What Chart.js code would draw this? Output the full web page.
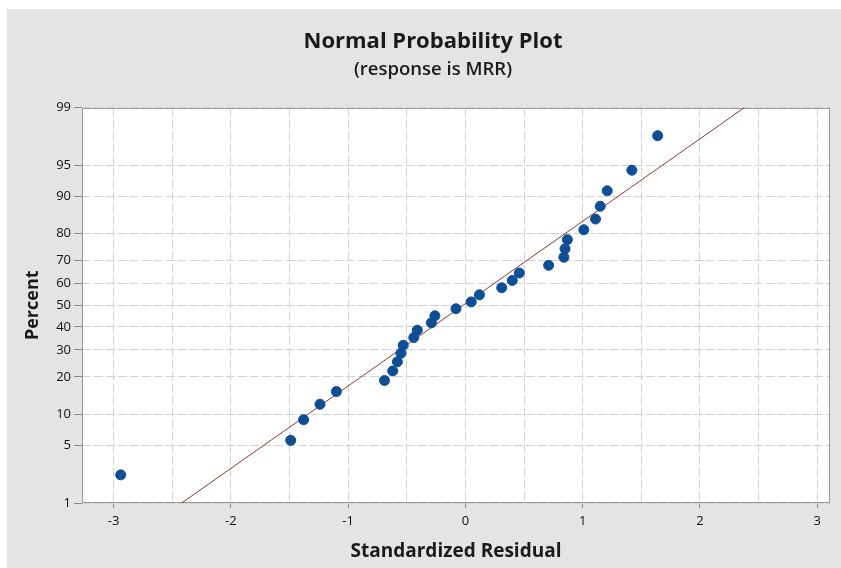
<!DOCTYPE html>
<html>
<head>
<meta charset="utf-8">
<script src="https://cdn.jsdelivr.net/npm/chart.js@4"></script>
<style>
  body { margin: 0; background: #fff; }
  #wrap { position: absolute; left: 7px; top: 9px; width: 834px; height: 559px; background: #e4e4e4; }
</style>
</head>
<body>
<div id="wrap"><canvas id="npp" width="834" height="559"></canvas></div>
<script>
// residuos estandarizados y su percentil
const residuals = [-2.94, -1.49, -1.38, -1.24, -1.10, -0.69, -0.62, -0.58, -0.55, -0.53,
  -0.44, -0.41, -0.29, -0.26, -0.08, 0.05, 0.12, 0.31, 0.40, 0.46,
  0.71, 0.84, 0.85, 0.87, 1.01, 1.11, 1.15, 1.21, 1.42, 1.64];
const percents = [2.3, 5.6, 8.9, 12.2, 15.5, 18.8, 22.0, 25.3, 28.6, 31.9,
  35.2, 38.5, 41.8, 45.1, 48.4, 51.6, 54.9, 58.2, 61.5, 64.8,
  68.1, 71.4, 74.7, 78.0, 81.3, 84.5, 87.8, 91.1, 94.4, 97.7];

// recta de ajuste
const fitResidual = [-2.42, 2.38];
const fitPercent = [1, 99];

const yTickPercents = [1, 5, 10, 20, 30, 40, 50, 60, 70, 80, 90, 95, 99];
const xTickValues = [-3, -2.5, -2, -1.5, -1, -0.5, 0, 0.5, 1, 1.5, 2, 2.5, 3];

// inversa de la normal (Acklam) para la escala de probabilidad
function probit(p) {
  const a = [-3.969683028665376e+01, 2.209460984245205e+02, -2.759285104469687e+02, 1.383577518672690e+02, -3.066479806614716e+01, 2.506628277459239e+00];
  const b = [-5.447609879822406e+01, 1.615858368580409e+02, -1.556989798598866e+02, 6.680131188771972e+01, -1.328068155288572e+01];
  const c = [-7.784894002430293e-03, -3.223964580411365e-01, -2.400758277161838e+00, -2.549732539343734e+00, 4.374664141464968e+00, 2.938163982698783e+00];
  const d = [7.784695709041462e-03, 3.224671290700398e-01, 2.445134137142996e+00, 3.754408661907416e+00];
  const pl = 0.02425;
  let q, r;
  if (p < pl) {
    q = Math.sqrt(-2 * Math.log(p));
    return (((((c[0]*q+c[1])*q+c[2])*q+c[3])*q+c[4])*q+c[5]) / ((((d[0]*q+d[1])*q+d[2])*q+d[3])*q+1);
  }
  if (p > 1 - pl) {
    q = Math.sqrt(-2 * Math.log(1 - p));
    return -(((((c[0]*q+c[1])*q+c[2])*q+c[3])*q+c[4])*q+c[5]) / ((((d[0]*q+d[1])*q+d[2])*q+d[3])*q+1);
  }
  q = p - 0.5; r = q * q;
  return (((((a[0]*r+a[1])*r+a[2])*r+a[3])*r+a[4])*r+a[5])*q / (((((b[0]*r+b[1])*r+b[2])*r+b[3])*r+b[4])*r+1);
}
const zOf = pct => probit(pct / 100);

const points = residuals.map((r, i) => ({ x: r, y: zOf(percents[i]) }));
const fitLine = fitResidual.map((r, i) => ({ x: r, y: zOf(fitPercent[i]) }));

// fondo blanco y marco del area de trazado
const plotFrame = {
  id: 'plotFrame',
  beforeDraw(chart) {
    const { ctx, chartArea: a } = chart;
    ctx.save();
    ctx.fillStyle = '#ffffff';
    ctx.fillRect(a.left, a.top, a.right - a.left, a.bottom - a.top);
    ctx.restore();
  },
  beforeDatasetsDraw(chart) {
    const { ctx, chartArea: a } = chart;
    ctx.save();
    ctx.strokeStyle = '#9a9a9a';
    ctx.lineWidth = 1;
    ctx.strokeRect(Math.round(a.left) + 0.5, Math.round(a.top) + 0.5,
      Math.round(a.right - a.left) - 1, Math.round(a.bottom - a.top) - 1);
    ctx.restore();
  }
};

Chart.defaults.font.family = '"Open Sans", "Noto Sans", sans-serif';
Chart.defaults.color = '#222';

new Chart(document.getElementById('npp').getContext('2d'), {
  type: 'scatter',
  data: {
    datasets: [{
      type: 'line',
      data: fitLine,
      borderColor: '#8c3a36',
      borderWidth: 1,
      pointRadius: 0,
      fill: false,
      order: 2
    }, {
      data: points,
      backgroundColor: '#0d4f97',
      borderColor: '#0d4f97',
      pointRadius: 5,
      order: 1
    }]
  },
  options: {
    responsive: false,
    animation: false,
    layout: { padding: { left: 29, right: 11, top: 0, bottom: 0 } },
    plugins: {
      legend: { display: false },
      tooltip: { enabled: false },
      title: {
        display: true,
        text: 'Normal Probability Plot',
        color: '#1a1a1a',
        font: { size: 22, weight: 'bold' },
        padding: { top: 20, bottom: 3 }
      },
      subtitle: {
        display: true,
        text: '(response is MRR)',
        color: '#1a1a1a',
        font: { size: 18.5, weight: '600' },
        padding: { top: 0, bottom: 27 }
      }
    },
    scales: {
      x: {
        type: 'linear',
        min: -3.27,
        max: 3.11,
        afterBuildTicks: s => { s.ticks = xTickValues.map(v => ({ value: v })); },
        afterFit: s => { s.height = 65; },
        ticks: {
          autoSkip: false,
          maxRotation: 0,
          padding: 5,
          color: '#111',
          font: { size: 13 },
          callback: v => Number.isInteger(v) ? v : ''
        },
        grid: {
          color: '#d2d2d2',
          tickLength: 5,
          tickBorderDash: [],
          tickColor: c => (c.tick && Number.isInteger(c.tick.value)) ? '#8a8a8a' : 'rgba(0,0,0,0)'
        },
        border: { display: false, dash: [9, 3] },
        title: {
          display: true,
          text: 'Standardized Residual',
          color: '#1a1a1a',
          font: { size: 19, weight: 'bold', lineHeight: 1.2 },
          padding: { top: 0, bottom: 5 }
        }
      },
      y: {
        type: 'linear',
        min: zOf(1),
        max: zOf(99),
        afterBuildTicks: s => { s.ticks = yTickPercents.map(p => ({ value: zOf(p) })); },
        afterFit: s => { s.width = 46; },
        ticks: {
          autoSkip: false,
          padding: 3,
          color: '#111',
          font: { size: 13 },
          callback: (v, i) => yTickPercents[i]
        },
        grid: {
          color: '#d2d2d2',
          tickLength: 8,
          tickBorderDash: [],
          tickColor: '#8a8a8a'
        },
        border: { display: false, dash: [9, 3] },
        title: {
          display: true,
          text: 'Percent',
          color: '#1a1a1a',
          font: { size: 18, weight: 'bold', lineHeight: 1 },
          padding: { top: -12, bottom: 0 }
        }
      }
    }
  },
  plugins: [plotFrame]
});
</script>
</body>
</html>
